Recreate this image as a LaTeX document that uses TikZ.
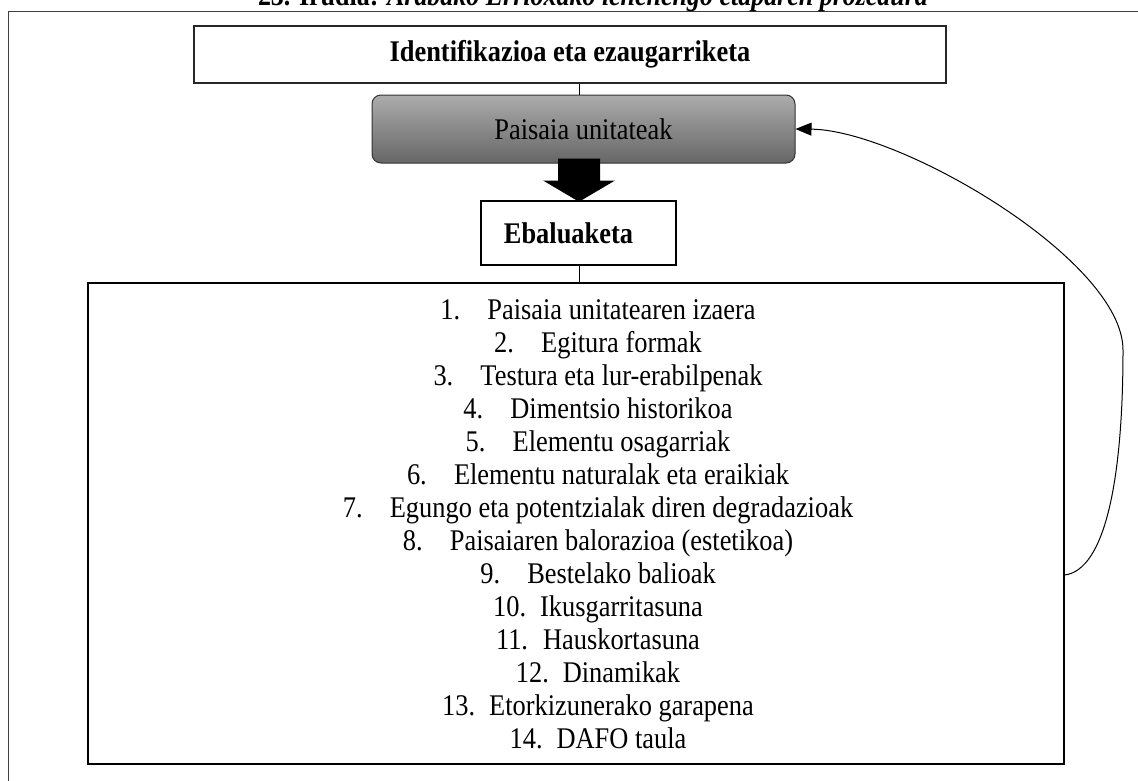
\documentclass[tikz,border=0pt]{standalone}
\usepackage{fontspec}
\setmainfont{Liberation Serif}[FakeStretch=0.88]
\usetikzlibrary{arrows.meta,calc}
\definecolor{graytop}{RGB}{172,172,172}
\definecolor{graybot}{RGB}{102,102,102}
\begin{document}
\begin{tikzpicture}[x=1pt,y=-1pt,
  frame/.style={draw=black!75, line width=1pt},
  headbox/.style={draw=black!85, line width=1.2pt, minimum width=752pt, minimum height=57pt, inner sep=0pt, font=\fontsize{30}{33}\selectfont\bfseries},
  unitbox/.style={draw=black!80, line width=1pt, rounded corners=9pt, top color=graytop, bottom color=graybot, minimum width=423pt, minimum height=68pt, inner sep=0pt, text=black, font=\fontsize{30}{33}\selectfont},
  evalbox/.style={draw=black, line width=2.5pt, minimum width=195pt, minimum height=64pt, inner sep=0pt, font=\fontsize{30}{33}\selectfont\bfseries},
  listbox/.style={draw=black, line width=1.2pt, minimum width=976pt, minimum height=481pt, inner sep=0pt},
  listitem/.style={anchor=base, inner sep=0pt, font=\fontsize{30}{33}\selectfont},
  link/.style={draw=black, line width=1pt},
  bigarrow/.style={fill=black},
  feedback/.style={draw=black, line width=1pt, -{Triangle[length=16pt,width=13pt]}}
]
\clip (0,0) rectangle (1138,780);
\fill[white] (0,0) rectangle (1138,780);
\draw[frame] (8,11) rectangle (1160,800);
\node[anchor=base, inner sep=0pt, font=\fontsize{29.5}{33}\selectfont] (title) at (593,5)
  {\bfseries 23. Irudia: \itshape Arabako Errioxako lehenengo etaparen prozedura};
\coordinate (sx) at (579,0);
\node[headbox] (head) at (570,54.5) {Identifikazioa eta ezaugarriketa};
\node[unitbox] (unit) at (583.5,129) {Paisaia unitateak};
\node[evalbox] (eval) at (578.5,233) {\hspace*{-20pt}Ebaluaketa};
\node[listbox] (list) at (576,523.5) {};
\draw[link] (head.south -| sx) -- (unit.north -| sx);
\fill[bigarrow] ($(unit.south -| sx)+(-21,-5)$) -- ($(unit.south -| sx)+(21,-5)$)
  -- ($(unit.south -| sx)+(21,17)$) -- ($(unit.south -| sx)+(36,17)$)
  -- ($(eval.north -| sx)+(0,2)$)
  -- ($(unit.south -| sx)+(-36,17)$) -- ($(unit.south -| sx)+(-21,17)$) -- cycle;
\draw[link] (eval.south -| sx) -- (list.north -| sx);
\coordinate (fb) at ($(list.east)+(0,51.5)$);
\draw[feedback] (fb) .. controls (1105,570) and (1123,480) .. (1123,350)
  .. controls (1123,260) and (900,130) .. (unit.east);
\foreach \n/\t [count=\i] in {1/Paisaia unitatearen izaera, 2/Egitura formak,
  3/Testura eta lur-erabilpenak, 4/Dimentsio historikoa, 5/Elementu osagarriak,
  6/Elementu naturalak eta eraikiak, 7/Egungo eta potentzialak diren degradazioak,
  8/Paisaiaren balorazioa (estetikoa), 9/Bestelako balioak, 10/Ikusgarritasuna,
  11/Hauskortasuna, 12/Dinamikak, 13/Etorkizunerako garapena, 14/DAFO taula}
  \node[listitem] (l\i) at (598,{319+33*(\i-1)}) {\makebox[47pt][l]{\n.}\t};
\end{tikzpicture}
\end{document}
